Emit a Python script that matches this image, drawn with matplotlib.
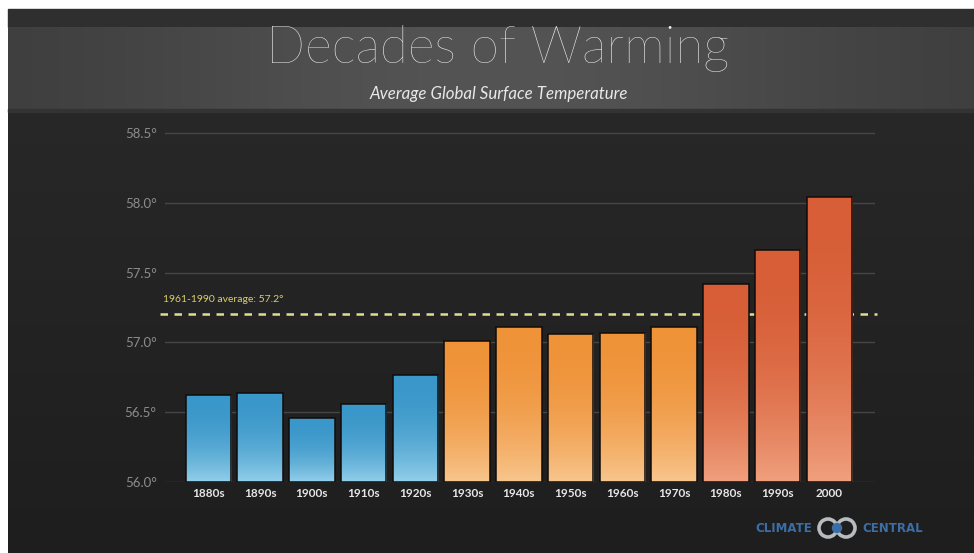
import numpy as np
import matplotlib
matplotlib.use("Agg")
import matplotlib.pyplot as plt
from matplotlib.patches import Rectangle, Circle
from matplotlib.colors import to_rgb

# ---- data ----
decades = ["1880s", "1890s", "1900s", "1910s", "1920s", "1930s", "1940s",
           "1950s", "1960s", "1970s", "1980s", "1990s", "2000"]
temps = [56.62, 56.64, 56.46, 56.56, 56.77, 57.01, 57.11,
         57.06, 57.07, 57.11, 57.42, 57.66, 58.04]
groups = ["cool"] * 5 + ["warm"] * 5 + ["hot"] * 3
yticks = [56.0, 56.5, 57.0, 57.5, 58.0, 58.5]
baseline_value = 57.2
baseline_label = "1961-1990 average: 57.2°"
title = "Decades of Warming"
subtitle = "Average Global Surface Temperature"

# ---- styles ----
W, H = 974, 553
grad = {
    "cool": ("#3a97c9", "#93cfea"),
    "warm": ("#ef9339", "#f8c68e"),
    "hot": ("#d75e37", "#f0a07e"),
}
fig = plt.figure(figsize=(W / 100, H / 100), dpi=100)

# background in pixel coords
bg = fig.add_axes([0, 0, 1, 1])
bg.axis("off")
bg.add_patch(Rectangle((0, 0), W, H, color="white"))
g = np.linspace(0, 1, 200)[:, None]
c1, c2 = np.array(to_rgb("#2a2a2a")), np.array(to_rgb("#1f1e1e"))
img = c1[None, None, :] * (1 - g[..., None]) + c2[None, None, :] * g[..., None]
bg.imshow(img, extent=(8, W, H, 9), aspect="auto", zorder=1)
bg.add_patch(Rectangle((8, 9), W - 8, 18, color="#2f2f2f", zorder=2))
xs = np.linspace(-1, 1, 400)
t = np.exp(-(xs / 0.75) ** 2)
b1, b2 = np.array(to_rgb("#3b3b3b")), np.array(to_rgb("#545454"))
ban = b1[None, :] * (1 - t[:, None]) + b2[None, :] * t[:, None]
bg.imshow(ban[None, :, :], extent=(8, W, 111, 27), aspect="auto", zorder=2)
bg.add_patch(Rectangle((8, 109), W - 8, 3, color="#333333", zorder=3))
bg.set_xlim(0, W)
bg.set_ylim(H, 0)

bg.text(498, 49, title, ha="center", va="center", fontsize=37,
        family="Lato", weight="light", color="#f0f0f0", zorder=5)
bg.text(499, 94, subtitle, ha="center", va="center", fontsize=12.2,
        family="Lato", style="italic", color="#e8e8e8", zorder=5)

# logo
bg.text(812, 528, "CLIMATE", ha="right", va="center", fontsize=8.5,
        family="DejaVu Sans", weight="bold", color="#3c6ea6", zorder=5)
bg.text(862, 528, "CENTRAL", ha="left", va="center", fontsize=8.5,
        family="DejaVu Sans", weight="bold", color="#3c6ea6", zorder=5)
for cx in (828, 846):
    bg.add_patch(Circle((cx, 528), 9, fill=False, lw=2.6, ec="#b8bcc0", zorder=5))
bg.add_patch(Circle((837, 528), 4.5, color="#3c6ea6", zorder=6))

# main axes
ax = fig.add_axes([165 / W, 1 - 482 / H, 710 / W, 356 / H])
ax.set_facecolor("none")
for s in ax.spines.values():
    s.set_visible(False)

for v in yticks:
    ax.axhline(v, color="#464646", lw=1.0, zorder=1)

x = np.arange(len(decades))
ax.plot([-0.94, 12.92], [baseline_value, baseline_value], ls=(0, (3, 2.6)),
        lw=1.8, color="#e2dc90", zorder=2, clip_on=False)
ax.text(-0.88, baseline_value + 0.105, baseline_label, ha="left", va="center",
        fontsize=7.5, family="Lato", color="#d9d06a", zorder=3)

bars = ax.bar(x, [tv - 56.0 for tv in temps], bottom=56.0, width=0.88,
              color="none", edgecolor="#100c0a", lw=1.1, zorder=4)
for b, grp in zip(bars, groups):
    top, bot = np.array(to_rgb(grad[grp][0])), np.array(to_rgb(grad[grp][1]))
    tt = np.linspace(0, 1, 256)[:, None] ** 2.2
    arr = top[None, :] * (1 - tt) + bot[None, :] * tt
    x0, y0 = b.get_x(), b.get_y()
    im = ax.imshow(arr[:, None, :], extent=(x0, x0 + b.get_width(), y0, y0 + b.get_height()),
                   aspect="auto", zorder=3.5, origin="upper")
    im.set_clip_path(b)
ax.set_xlim(-0.84, 12.88)
ax.set_ylim(56.0, 58.55)

ax.set_xticks(x)
ax.set_xticklabels(decades, family="Lato", weight="bold", fontsize=8.5, color="#e6e6e6")
ax.set_yticks(yticks)
ax.set_yticklabels([f"{v:.1f}°" for v in yticks], family="Lato", fontsize=9.5,
                   color="#8c8c8c")
ax.tick_params(axis="both", length=0)
ax.tick_params(axis="x", pad=4)
ax.tick_params(axis="y", pad=6)

fig.savefig("out.png", dpi=100, facecolor="white")
